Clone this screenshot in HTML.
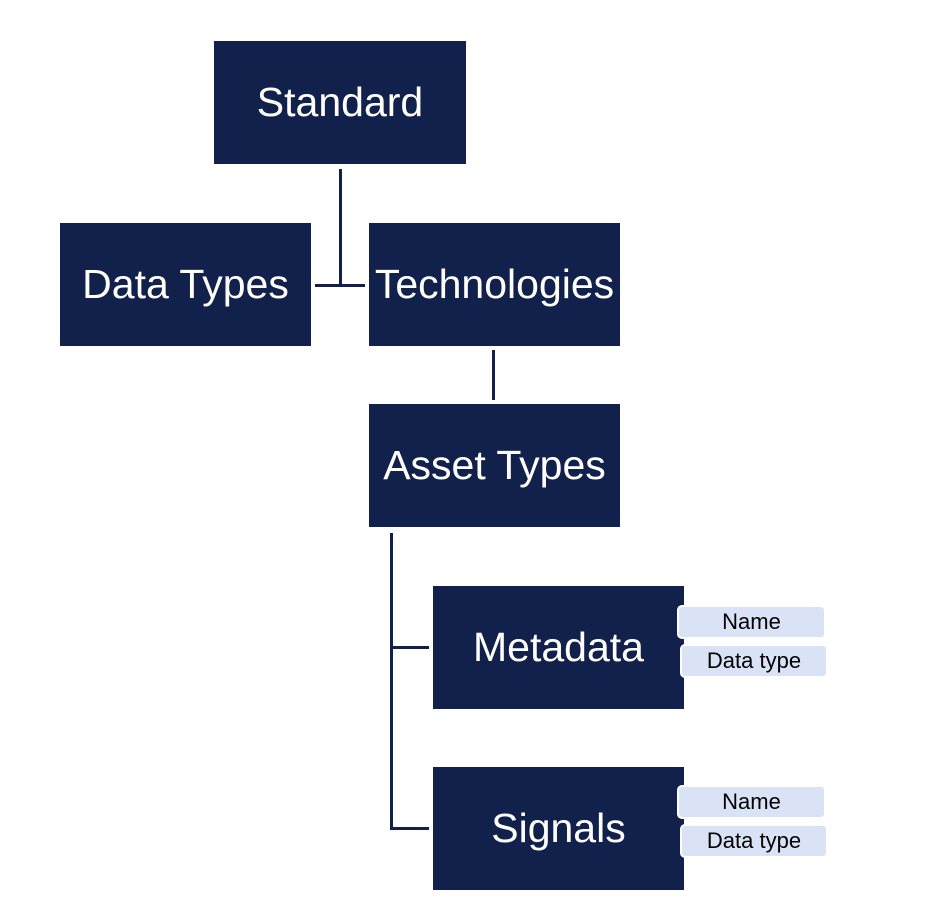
<!DOCTYPE html><html><head><style>
body{margin:0;width:947px;height:914px;background:#fff;position:relative;font-family:"Liberation Sans",sans-serif;overflow:hidden}
.b{position:absolute;background:#12214b;color:#fff;font-size:41px;display:flex;align-items:center;justify-content:center;white-space:nowrap}
.l{position:absolute;background:#12214b}
.p{position:absolute;background:#dae3f6;border:2px solid #fff;border-radius:5px;box-sizing:border-box;font-size:22px;color:#000;display:flex;align-items:center;justify-content:center}
</style></head><body>
<div class="b" style="left:214px;top:41px;width:252px;height:123px">Standard</div>
<div class="b" style="left:60px;top:223px;width:251px;height:123px">Data Types</div>
<div class="b" style="left:369px;top:223px;width:251px;height:123px">Technologies</div>
<div class="b" style="left:369px;top:404px;width:251px;height:123px">Asset Types</div>
<div class="b" style="left:433px;top:586px;width:251px;height:123px">Metadata</div>
<div class="b" style="left:433px;top:767px;width:251px;height:123px">Signals</div>
<div class="l" style="left:339px;top:169px;width:3px;height:118px"></div>
<div class="l" style="left:315px;top:284px;width:50px;height:3px"></div>
<div class="l" style="left:492px;top:350px;width:3px;height:50px"></div>
<div class="l" style="left:390px;top:533px;width:3px;height:297px"></div>
<div class="l" style="left:390px;top:646px;width:39px;height:3px"></div>
<div class="l" style="left:390px;top:827px;width:39px;height:3px"></div>
<div class="p" style="left:677px;top:605px;width:149px;height:34px">Name</div>
<div class="p" style="left:680px;top:644px;width:148px;height:34px">Data type</div>
<div class="p" style="left:677px;top:785px;width:149px;height:34px">Name</div>
<div class="p" style="left:680px;top:824px;width:148px;height:34px">Data type</div>
</body></html>
